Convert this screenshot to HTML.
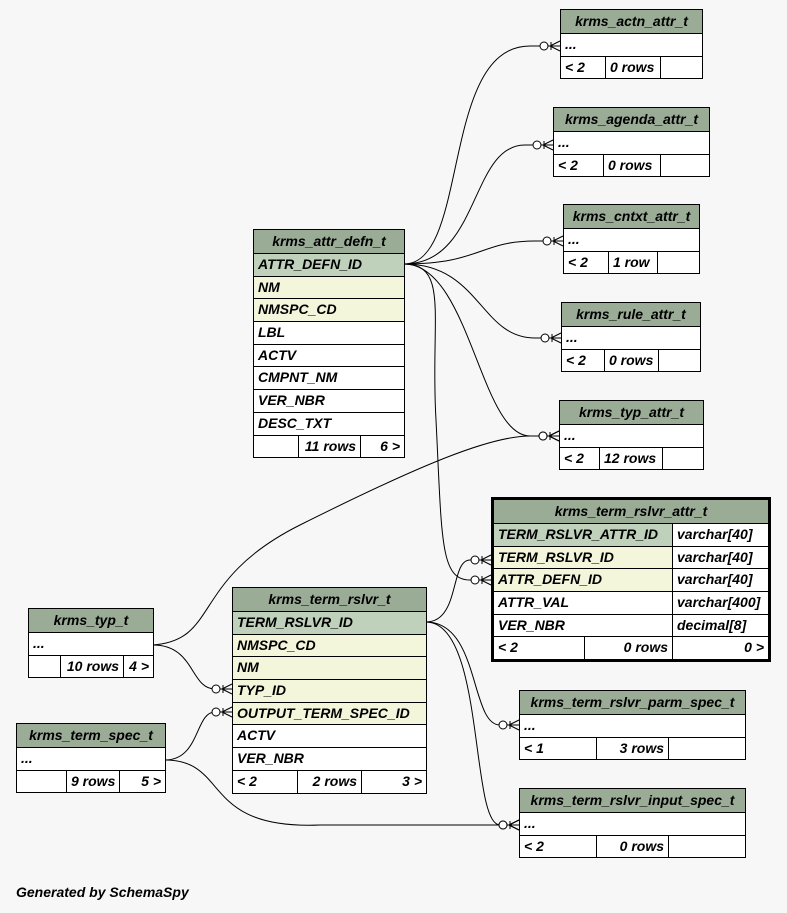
<!DOCTYPE html>
<html><head><meta charset="utf-8"><style>
body{margin:0;width:787px;height:913px;background:#f7f7f7;position:relative;overflow:hidden;font-family:"Liberation Sans",sans-serif;font-style:italic;font-weight:bold;font-size:14px;color:#000}
.t{position:absolute;border:1px solid #000;background:#fff;box-sizing:border-box}
.h{height:23px;line-height:23px;text-align:center;background:#9aab96;border-bottom:1px solid #000}
.r{height:21.7px;line-height:21.7px;padding-left:4px;border-bottom:1px solid #000;white-space:nowrap;position:relative}
.r:last-child{border-bottom:none}
.pk{background:#bfd1bb}.fk{background:#f4f6dc}
.f{display:flex;padding:0}
.f span{border-right:1px solid #000;box-sizing:border-box;padding:0 4px;height:21.7px}
.f span:last-child{border-right:none}
.ra{text-align:right}
.ty{position:absolute;top:0;bottom:0;border-left:1px solid #000;padding-left:4px;background:#fff}
.foot{position:absolute;left:16px;top:884px;font-size:14px}
svg{position:absolute;left:0;top:0}
</style></head><body>
<svg width="787" height="913">
<defs><marker id="m" markerUnits="userSpaceOnUse" markerWidth="24" markerHeight="14" refX="22" refY="7" orient="auto">
<circle cx="6" cy="7" r="4" fill="#fff" stroke="#000"/>
<path d="M10,7 L22,7 M12,7 L22,2 M12,7 L22,12 M13,3 L13,11" stroke="#000" fill="none"/>
</marker></defs>
<g fill="none" stroke="#000" stroke-width="1" marker-end="url(#m)">
<path d="M404,264 C470,264 440,46 530,46 L560,46"/>
<path d="M404,264 C480,264 470,145 525,145 L553,145"/>
<path d="M404,264 C480,264 480,241 535,241 L563,241"/>
<path d="M404,264 C480,264 480,338 535,338 L561,338"/>
<path d="M404,264 C470,264 480,436 530,436 L559,436"/>
<path d="M404,264 C450,264 430,320 436,420 C442,540 440,580 470,580 L491,580"/>
<path d="M153,645 C220,640 190,580 300,525 C420,465 490,436 530,436 L559,436"/>
<path d="M153,645 C195,645 190,689 215,689 L232,689"/>
<path d="M165,760 C200,760 195,712 215,712 L232,712"/>
<path d="M165,760 C230,760 200,830 320,825 L519,825"/>
<path d="M426,622 C460,622 450,560 470,560 L491,560"/>
<path d="M426,622 C480,622 470,725 500,725 L519,725"/>
<path d="M426,622 C485,622 470,825 500,825 L519,825"/>
</g></svg>

<div class="t" style="left:560px;top:9px;width:143px"><div class="h">krms_actn_attr_t</div><div class="r">...</div><div class="r f"><span style="width:45px">&lt; 2</span><span style="width:55px">0 rows</span><span></span></div></div>
<div class="t" style="left:553px;top:107px;width:157px"><div class="h">krms_agenda_attr_t</div><div class="r">...</div><div class="r f"><span style="width:50px">&lt; 2</span><span style="width:57px">0 rows</span><span></span></div></div>
<div class="t" style="left:563px;top:204px;width:137px"><div class="h">krms_cntxt_attr_t</div><div class="r">...</div><div class="r f"><span style="width:45px">&lt; 2</span><span style="width:49px">1 row</span><span></span></div></div>
<div class="t" style="left:561px;top:302px;width:140px"><div class="h">krms_rule_attr_t</div><div class="r">...</div><div class="r f"><span style="width:43px">&lt; 2</span><span style="width:54px">0 rows</span><span></span></div></div>
<div class="t" style="left:559px;top:400px;width:145px"><div class="h">krms_typ_attr_t</div><div class="r">...</div><div class="r f"><span style="width:40px">&lt; 2</span><span style="width:63px">12 rows</span><span></span></div></div>

<div class="t" style="left:253px;top:229px;width:152px"><div class="h">krms_attr_defn_t</div>
<div class="r pk">ATTR_DEFN_ID</div><div class="r fk">NM</div><div class="r fk">NMSPC_CD</div><div class="r">LBL</div><div class="r">ACTV</div><div class="r">CMPNT_NM</div><div class="r">VER_NBR</div><div class="r">DESC_TXT</div>
<div class="r f"><span style="width:45px"></span><span style="width:62px" class="ra">11 rows</span><span style="width:43px" class="ra">6 &gt;</span></div></div>

<div class="t" style="left:491px;top:497px;width:280px;border:3px solid #000"><div class="h">krms_term_rslvr_attr_t</div>
<div class="r pk">TERM_RSLVR_ATTR_ID<span class="ty" style="left:178px;right:0">varchar[40]</span></div>
<div class="r fk">TERM_RSLVR_ID<span class="ty" style="left:178px;right:0">varchar[40]</span></div>
<div class="r fk">ATTR_DEFN_ID<span class="ty" style="left:178px;right:0">varchar[40]</span></div>
<div class="r">ATTR_VAL<span class="ty" style="left:178px;right:0">varchar[400]</span></div>
<div class="r">VER_NBR<span class="ty" style="left:178px;right:0">decimal[8]</span></div>
<div class="r f"><span style="width:91px">&lt; 2</span><span style="width:88px" class="ra">0 rows</span><span style="width:95px" class="ra">0 &gt;</span></div></div>

<div class="t" style="left:28px;top:608px;width:126px"><div class="h">krms_typ_t</div><div class="r">...</div><div class="r f"><span style="width:32px"></span><span style="width:63px" class="ra">10 rows</span><span style="width:29px" class="ra">4 &gt;</span></div></div>
<div class="t" style="left:16px;top:723px;width:150px"><div class="h">krms_term_spec_t</div><div class="r">...</div><div class="r f"><span style="width:50px"></span><span style="width:53px" class="ra">9 rows</span><span style="width:45px" class="ra">5 &gt;</span></div></div>

<div class="t" style="left:232px;top:587px;width:195px"><div class="h">krms_term_rslvr_t</div>
<div class="r pk">TERM_RSLVR_ID</div><div class="r fk">NMSPC_CD</div><div class="r fk">NM</div><div class="r fk">TYP_ID</div><div class="r fk">OUTPUT_TERM_SPEC_ID</div><div class="r">ACTV</div><div class="r">VER_NBR</div>
<div class="r f"><span style="width:65px">&lt; 2</span><span style="width:64px" class="ra">2 rows</span><span style="width:64px" class="ra">3 &gt;</span></div></div>

<div class="t" style="left:519px;top:690px;width:227px"><div class="h">krms_term_rslvr_parm_spec_t</div><div class="r">...</div><div class="r f"><span style="width:77px">&lt; 1</span><span style="width:72px" class="ra">3 rows</span><span></span></div></div>
<div class="t" style="left:519px;top:788px;width:227px"><div class="h">krms_term_rslvr_input_spec_t</div><div class="r">...</div><div class="r f"><span style="width:77px">&lt; 2</span><span style="width:72px" class="ra">0 rows</span><span></span></div></div>

<div class="foot">Generated by SchemaSpy</div>
</body></html>
